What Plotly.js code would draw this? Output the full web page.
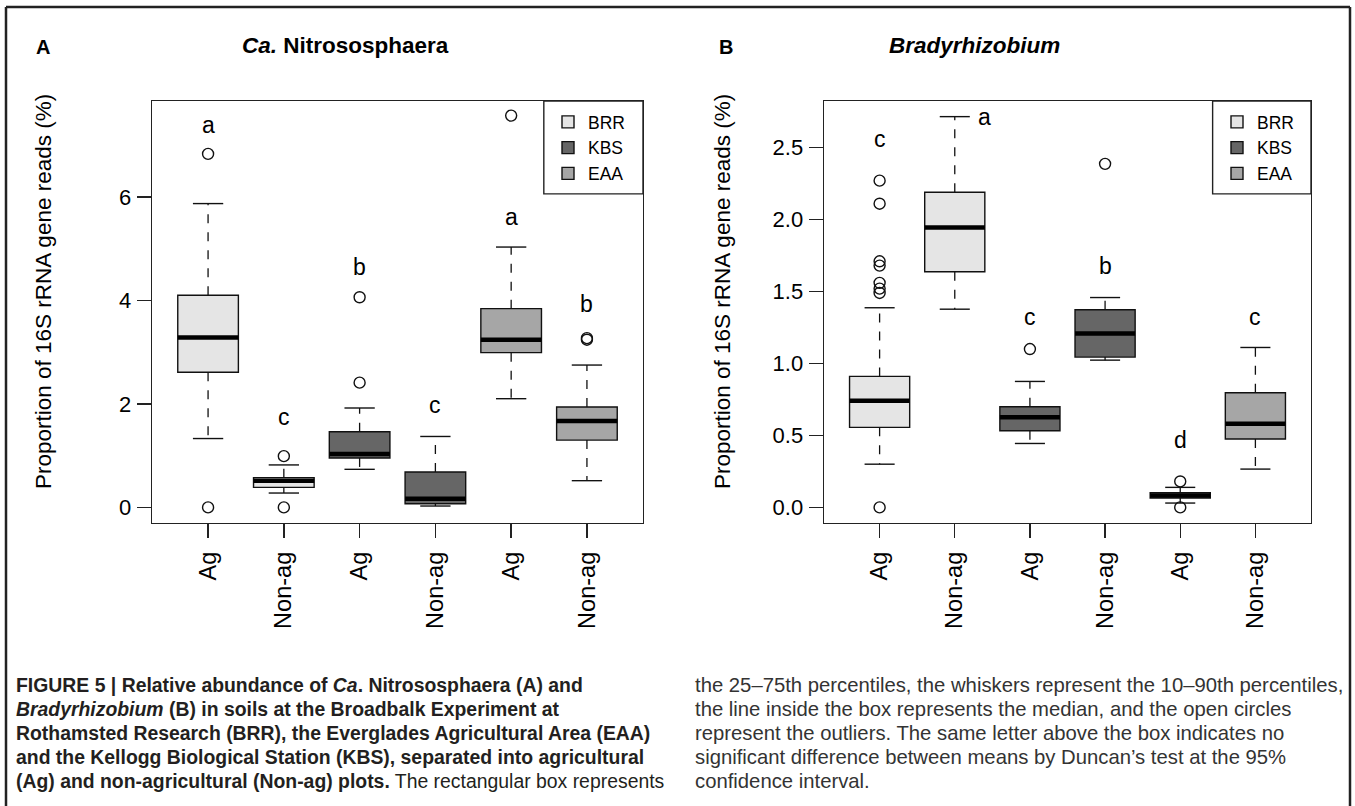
<!DOCTYPE html>
<html>
<head>
<meta charset="utf-8">
<script src="https://cdn.plot.ly/plotly-3.0.1.min.js"></script>
<style>html,body{margin:0;padding:0;background:#fff;}#chart{width:1355px;height:806px;}</style>
</head>
<body>
<div id="chart"></div>
<script>
// ---------------- DATA ----------------
const categories = ['Ag', 'Non-ag', 'Ag', 'Non-ag', 'Ag', 'Non-ag'];
const groupSites = ['BRR', 'BRR', 'KBS', 'KBS', 'EAA', 'EAA'];
const sites = ['BRR', 'KBS', 'EAA'];

// Panel A: Ca. Nitrososphaera
const nitroQ1 = [2.61, 0.387, 0.955, 0.071, 2.99, 1.30];
const nitroMedian = [3.28, 0.516, 1.03, 0.168, 3.24, 1.67];
const nitroQ3 = [4.10, 0.574, 1.46, 0.684, 3.84, 1.94];
const nitroLowWhisker = [1.33, 0.277, 0.735, 0.026, 2.10, 0.516];
const nitroHighWhisker = [5.87, 0.82, 1.92, 1.37, 5.03, 2.75];
const nitroOutliers = [[6.83, 0], [0.99, 0], [4.06, 2.41], [], [7.57], [3.27, 3.24]];
const nitroLetters = ['a', 'c', 'b', 'c', 'a', 'b'];
const nitroLetterY = [7.39, 1.75, 4.65, 1.97, 5.62, 3.93];
const nitroLetterX = [1, 2, 3, 4, 5, 6];
const nitroTicks = [0, 2, 4, 6];
const nitroTickText = ['0', '2', '4', '6'];

// Panel B: Bradyrhizobium
const bradyQ1 = [0.556, 1.637, 0.532, 1.044, 0.065, 0.475];
const bradyMedian = [0.74, 1.944, 0.627, 1.208, 0.083, 0.581];
const bradyQ3 = [0.91, 2.19, 0.699, 1.373, 0.102, 0.796];
const bradyLowWhisker = [0.30, 1.377, 0.444, 1.023, 0.030, 0.266];
const bradyHighWhisker = [1.387, 2.715, 0.875, 1.458, 0.139, 1.111];
const bradyOutliers = [[2.27, 2.11, 1.71, 1.68, 1.56, 1.52, 1.49, 0], [], [1.10], [2.387], [0.18, 0.0], []];
const bradyLetters = ['c', 'a', 'c', 'b', 'd', 'c'];
const bradyLetterY = [2.56, 2.715, 1.326, 1.68, 0.47, 1.32];
const bradyLetterX = [1, 2.39, 3, 4, 5, 6];
const bradyTicks = [0, 0.5, 1.0, 1.5, 2.0, 2.5];
const bradyTickText = ['0.0', '0.5', '1.0', '1.5', '2.0', '2.5'];

const panelTitles = ['<b><i>Ca.</i> Nitrososphaera</b>', '<b><i>Bradyrhizobium</i></b>'];
const panelLetters = ['A', 'B'];
const yTitle = 'Proportion of 16S rRNA gene reads (%)';

const captionLeft = [
  '<b>FIGURE 5 | Relative abundance of <i>Ca</i>. Nitrososphaera (A) and</b>',
  '<b><i>Bradyrhizobium</i> (B) in soils at the Broadbalk Experiment at</b>',
  '<b>Rothamsted Research (BRR), the Everglades Agricultural Area (EAA)</b>',
  '<b>and the Kellogg Biological Station (KBS), separated into agricultural</b>',
  '<b>(Ag) and non-agricultural (Non-ag) plots.</b> The rectangular box represents'
];
const captionRight = [
  'the 25–75th percentiles, the whiskers represent the 10–90th percentiles,',
  'the line inside the box represents the median, and the open circles',
  'represent the outliers. The same letter above the box indicates no',
  'significant difference between means by Duncan’s test at the 95%',
  'confidence interval.'
];

// ---------------- STYLE / LAYOUT ----------------
const W = 1355, H = 806;
const FONT = 'Liberation Sans, Arial, Helvetica, sans-serif';
const siteColors = {BRR: '#e5e5e5', KBS: '#666666', EAA: '#a6a6a6'};
const px = x => x / W;
const py = y => 1 - y / H;
const BOXW = 0.8, STAPLE = 0.2;

const panels = [
  {q1: nitroQ1, med: nitroMedian, q3: nitroQ3, lo: nitroLowWhisker, hi: nitroHighWhisker,
   out: nitroOutliers, letters: nitroLetters, ly: nitroLetterY, lx: nitroLetterX,
   ticks: nitroTicks, tickText: nitroTickText, yr: [-0.302, 7.852],
   xa: 'x', ya: 'y', legend: 'legend', dom: [px(152), px(643)],
   titleX: 345, letterX: 43, yTitleX: 43, legendX: 548},
  {q1: bradyQ1, med: bradyMedian, q3: bradyQ3, lo: bradyLowWhisker, hi: bradyHighWhisker,
   out: bradyOutliers, letters: bradyLetters, ly: bradyLetterY, lx: bradyLetterX,
   ticks: bradyTicks, tickText: bradyTickText, yr: [-0.1086, 2.8236],
   xa: 'x2', ya: 'y2', legend: 'legend2', dom: [px(824), px(1311)],
   titleX: 974, letterX: 726, yTitleX: 722, legendX: 1217}
];

const traces = [];
const annotations = [];
const shapes = [];
const layout = {
  width: W, height: H, margin: {l: 0, r: 0, t: 0, b: 0},
  paper_bgcolor: '#ffffff', plot_bgcolor: '#ffffff',
  font: {family: FONT, color: '#000'},
  boxmode: 'overlay', showlegend: true, hovermode: false,
  annotations: annotations, shapes: shapes
};

panels.forEach((P, pi) => {
  const positions = categories.map((c, i) => i + 1);
  sites.forEach(site => {
    const idx = groupSites.map((s, i) => s === site ? i : -1).filter(i => i >= 0);
    traces.push({
      type: 'box', name: site, orientation: 'v',
      x: idx.map(i => positions[i]),
      q1: idx.map(i => P.q1[i]), median: idx.map(i => P.med[i]), q3: idx.map(i => P.q3[i]),
      lowerfence: idx.map(i => P.q1[i]), upperfence: idx.map(i => P.q3[i]),
      width: BOXW, whiskerwidth: 0, boxpoints: false,
      fillcolor: siteColors[site], line: {color: '#111', width: 1.4},
      xaxis: P.xa, yaxis: P.ya, legend: P.legend, hoverinfo: 'skip'
    });
  });
  const wx = [], wy = [], sx = [], sy = [], mx = [], my = [], ox = [], oy = [];
  positions.forEach((x, i) => {
    wx.push(x, x, null, x, x, null);
    wy.push(P.q3[i], P.hi[i], null, P.q1[i], P.lo[i], null);
    sx.push(x - STAPLE, x + STAPLE, null, x - STAPLE, x + STAPLE, null);
    sy.push(P.hi[i], P.hi[i], null, P.lo[i], P.lo[i], null);
    mx.push(x - BOXW / 2, x + BOXW / 2, null);
    my.push(P.med[i], P.med[i], null);
    P.out[i].forEach(v => { ox.push(x); oy.push(v); });
  });
  const common = {type: 'scatter', xaxis: P.xa, yaxis: P.ya, showlegend: false, hoverinfo: 'skip'};
  traces.push(Object.assign({}, common, {mode: 'lines', x: wx, y: wy, line: {color: '#111', width: 1.3, dash: 'dash'}}));
  traces.push(Object.assign({}, common, {mode: 'lines', x: sx, y: sy, line: {color: '#111', width: 1.4}}));
  traces.push(Object.assign({}, common, {mode: 'lines', x: mx, y: my, line: {color: '#000', width: 4.5}}));
  traces.push(Object.assign({}, common, {mode: 'markers', x: ox, y: oy,
    marker: {symbol: 'circle-open', size: 11, color: '#111', line: {width: 1.4, color: '#111'}}}));

  const xk = pi === 0 ? 'xaxis' : 'xaxis2';
  const yk = pi === 0 ? 'yaxis' : 'yaxis2';
  layout[xk] = {
    domain: P.dom, anchor: P.ya, range: [0.26, 6.74], tickmode: 'array',
    tickvals: positions, ticktext: categories, tickangle: -90,
    showline: true, mirror: true, linecolor: '#222', linewidth: 1.4,
    ticks: 'outside', ticklen: 14, tickwidth: 1.4, tickcolor: '#222',
    showgrid: false, zeroline: false, ticklabelstandoff: 4,
    tickfont: {family: FONT, size: 23.5, color: '#000'}, fixedrange: true
  };
  layout[yk] = {
    domain: [py(523), py(101)], anchor: P.xa, range: P.yr, tickmode: 'array',
    tickvals: P.ticks, ticktext: P.tickText,
    showline: true, mirror: true, linecolor: '#222', linewidth: 1.4,
    ticks: 'outside', ticklen: 14, tickwidth: 1.4, tickcolor: '#222',
    showgrid: false, zeroline: false, ticklabelstandoff: 1,
    tickfont: {family: FONT, size: 22, color: '#000'}, fixedrange: true
  };
  layout[P.legend] = {
    x: px(P.legendX), y: py(104), xanchor: 'left', yanchor: 'top',
    bgcolor: 'rgba(0,0,0,0)', borderwidth: 0, tracegroupgap: 0,
    font: {family: FONT, size: 17.5, color: '#000'}
  };
  shapes.push({type: 'rect', xref: P.xa + ' domain', yref: P.ya + ' domain',
    x0: 0.798, x1: 1, y0: 0.78, y1: 1, line: {color: '#222', width: 1.4}, fillcolor: 'rgba(0,0,0,0)'});

  P.letters.forEach((t, i) => {
    annotations.push({xref: P.xa, yref: P.ya, x: P.lx[i], y: P.ly[i], text: t, showarrow: false,
      xanchor: 'center', yanchor: 'middle', font: {family: FONT, size: 23, color: '#000'}});
  });
  annotations.push({xref: 'paper', yref: 'paper', x: px(P.titleX), y: py(45), text: panelTitles[pi],
    showarrow: false, xanchor: 'center', yanchor: 'middle', font: {family: FONT, size: 22.5, color: '#000'}});
  annotations.push({xref: 'paper', yref: 'paper', x: px(P.letterX), y: py(47), text: '<b>' + panelLetters[pi] + '</b>',
    showarrow: false, xanchor: 'center', yanchor: 'middle', font: {family: FONT, size: 20, color: '#000'}});
  annotations.push({xref: 'paper', yref: 'paper', x: px(P.yTitleX), y: py(292), text: yTitle, textangle: -90,
    showarrow: false, xanchor: 'center', yanchor: 'middle', font: {family: FONT, size: 22.5, color: '#000'}});
});

captionLeft.forEach((t, i) => {
  annotations.push({xref: 'paper', yref: 'paper', x: px(14), y: py(685 + 24 * i), text: t, showarrow: false,
    xanchor: 'left', yanchor: 'middle', align: 'left', font: {family: FONT, size: 19.4, color: '#231f20'}});
});
captionRight.forEach((t, i) => {
  annotations.push({xref: 'paper', yref: 'paper', x: px(693), y: py(685 + 24 * i), text: t, showarrow: false,
    xanchor: 'left', yanchor: 'middle', align: 'left', font: {family: FONT, size: 20.3, color: '#333333'}});
});

const fr = {xref: 'paper', yref: 'paper', type: 'line', line: {color: '#222', width: 2.5}};
shapes.push(Object.assign({}, fr, {x0: px(6), x1: px(1350), y0: py(7), y1: py(7)}));
shapes.push(Object.assign({}, fr, {x0: px(6), x1: px(6), y0: py(7), y1: py(820)}));
shapes.push(Object.assign({}, fr, {x0: px(1350), x1: px(1350), y0: py(7), y1: py(820)}));

Plotly.newPlot('chart', traces, layout, {displayModeBar: false, staticPlot: true});
</script>
</body>
</html>
